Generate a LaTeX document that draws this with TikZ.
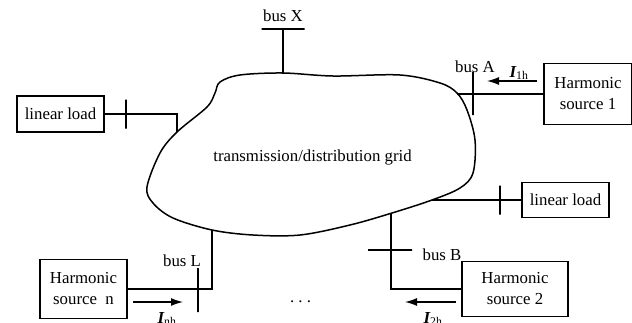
\documentclass[tikz,border=0pt]{standalone}
\usepackage{fontspec}
\setmainfont{Liberation Serif}
\usepackage{tikz}
\usetikzlibrary{arrows.meta, positioning, calc}
\definecolor{blkline}{HTML}{000000}
\tikzset{
  blk/.style    = {rectangle, draw=blkline, line width=1.3pt, align=center,
                   font=\fontsize{16.8}{21}\selectfont, inner sep=0pt},
  loadblk/.style= {blk, minimum width=87pt, minimum height=36pt},
  srcblk/.style = {blk, minimum height=59pt},
  busbar/.style = {rectangle, draw=blkline, line width=1.3pt, minimum width=43pt,
                   minimum height=0pt, inner sep=0pt},
  bustick/.style= {rectangle, draw=blkline, line width=1.3pt, minimum width=0pt,
                   minimum height=29pt, inner sep=0pt},
  wire/.style   = {line width=1.3pt, draw=blkline},
  flow/.style   = {-{Latex[length=12pt, width=8pt]}, line width=1.3pt, draw=blkline},
  lbl/.style    = {font=\fontsize{16.8}{20}\selectfont, anchor=base, inner sep=0pt},
}
\newcommand{\cur}[1]{{\bfseries\itshape I}\textsubscript{#1}}

\begin{document}
\begin{tikzpicture}[x=1pt, y=-1pt]
  \useasboundingbox (0,0) rectangle (632,322);
  % grid outline
  \draw[line width=1.5pt] plot[smooth cycle, tension=0.55] coordinates {
    (283,73) (333,76) (400,75) (440,83) (457,93) (467,110) (475,140) (473,173)
    (460,188) (432,200) (392,213) (350,225) (300,235) (253,235) (212,230)
    (173,218) (153,203) (147,187) (160,153) (177,132) (207,107) (215,93)
    (220,82) (240,75)};
  \node[lbl] (grid) at (312.5,161) {transmission/distribution grid};
  \coordinate (cX)  at (283,73);
  \coordinate (cLL) at (177,132);
  \coordinate (cA)  at (457,94);
  \coordinate (cLR) at (432,200);
  \coordinate (cB)  at (391,213);
  \coordinate (cL)  at (212,230);

  % blocks
  \node[loadblk] (llL) at (60.5,114) {linear load};
  \node[loadblk, minimum height=35pt] (llR) at (565.5,200) {linear load};
  \node[srcblk, minimum width=88pt, minimum height=61pt] (src1) at (588,94) {Harmonic\\source 1};
  \node[srcblk, minimum width=106pt, minimum height=55pt] (src2) at (515,289) {Harmonic\\source 2};
  \node[srcblk, minimum width=87pt] (srcn) at (83.5,289) {Harmonic\\source~ n};

  % buses
  \node[busbar] (barX) at (283,29) {};
  \node[lbl] (labX) at (283,21) {bus X};
  \draw[wire] (barX) -- (cX);

  \node[bustick, minimum height=43pt] (tickA) at (473,93.5) {};
  \node[lbl] (labA) at (475,72) {bus A};
  \draw[wire] (cA) -- (src1.west);

  \node[busbar, minimum width=44pt] (barB) at (390,250) {};
  \node[lbl] (labB) at (442,260) {bus B};
  \draw[wire] (cB) |- (src2.west);

  \node[bustick, minimum height=44pt] (tickL) at (198,290) {};
  \node[lbl] (labL) at (182,266) {bus L};
  \draw[wire] (cL) |- (srcn.east);

  \node[bustick] (tickLL) at (126,114) {};
  \draw[wire] (llL.east) -| (cLL);
  \node[bustick] (tickLR) at (500,200) {};
  \draw[wire] (cLR) -- (llR.west);

  % harmonic currents
  \coordinate (a1s) at (537,81);  \coordinate (a1e) at (487,81);
  \coordinate (a2s) at (456,302); \coordinate (a2e) at (405,302);
  \coordinate (ans) at (133,302); \coordinate (ane) at (183,302);
  \draw[flow] (a1s) -- (a1e);
  \draw[flow] (a2s) -- (a2e);
  \draw[flow] (ans) -- (ane);
  \node[lbl] (i1) at (519,77) {\cur{1h}};
  \node[lbl] (i2) at (433,323) {\cur{2h}};
  \node[lbl] (in) at (167,323) {\cur{nh}};
  \node[lbl] (dots) at (300.5,302) {.\ .\ .};
\end{tikzpicture}
\end{document}
